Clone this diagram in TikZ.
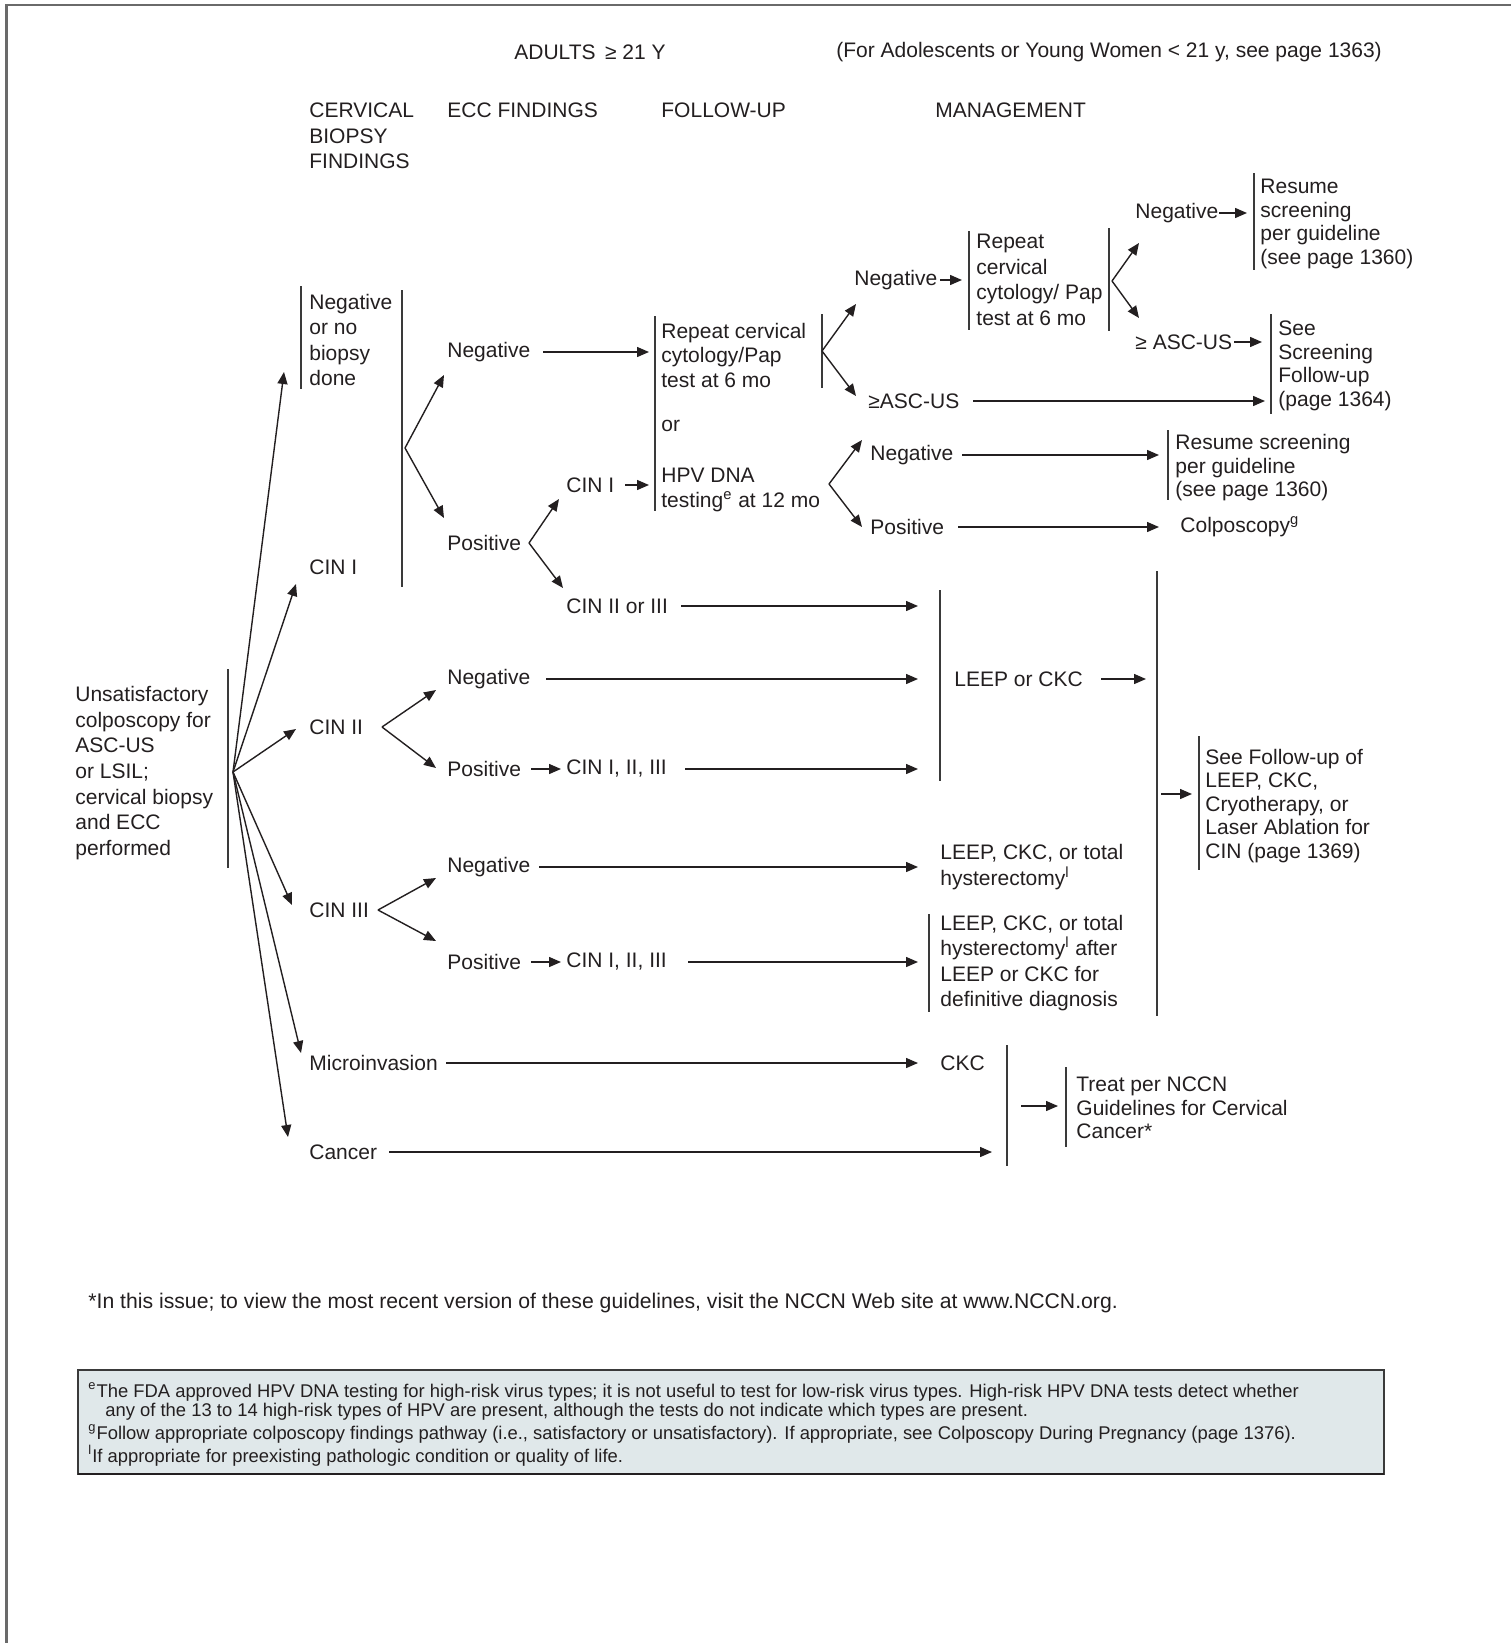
\documentclass[tikz,border=0pt]{standalone}
\usepackage{fontspec}
\setmainfont{Liberation Sans}
\usetikzlibrary{arrows.meta}

\definecolor{ink}{HTML}{231F20}
\definecolor{rulegray}{HTML}{3A3A3A}
\definecolor{framegray}{HTML}{6A6A6A}
\definecolor{notefill}{HTML}{E0E8EA}

% type sizes: main text with three line spacings, and the footnote panel
\newcommand\fsmain{\fontsize{10.5pt}{12.25pt}\selectfont}
\newcommand\fswide{\fontsize{10.5pt}{12.8pt}\selectfont}
\newcommand\fsnarrow{\fontsize{10.5pt}{11.75pt}\selectfont}
\newcommand\fsnote{\fontsize{9.2pt}{10.7pt}\selectfont}

% horizontal arrow: name, x start, x end, y
\newcommand\harrow[4]{%
  \coordinate (#1-s) at (#2,#4);
  \coordinate (#1-e) at (#3,#4);
  \draw[arr] (#1-s) -- (#1-e);}
% two-way split: name, vertex, upper tip, lower tip
\newcommand\splitpair[7]{%
  \coordinate (#1) at (#2,#3);
  \coordinate (#1-up) at (#4,#5);
  \coordinate (#1-dn) at (#6,#7);
  \draw[arr] (#1) -- (#1-up);
  \draw[arr] (#1) -- (#1-dn);}

\begin{document}
\begin{tikzpicture}[x=0.5pt,y=-0.5pt,
  txt/.style={anchor=west,inner sep=0pt,align=left,font=\fsmain,text=ink},
  arr/.style={draw=ink,line width=0.7pt,-{Triangle[length=6pt,width=5pt]}},
  bar/.style={draw=rulegray,line width=0.6pt},
]
% page
\fill[white] (0,0) rectangle (1511,1643);
\useasboundingbox (0,0) rectangle (1511,1643);
\draw[framegray,line width=1.2pt] (6.5,1643) -- (6.5,5) -- (1511,5);

% headings
\node[txt] (adults) at (514,52) {ADULTS \,≥ 21 Y};
\node[txt] (adol) at (836,52) {(For Adolescents or Young Women < 21 y, see page 1363)};
\node[txt,font=\fswide] (hbiopsy) at (309,136) {CERVICAL\\BIOPSY\\FINDINGS};
\node[txt] (hecc) at (447,110) {ECC FINDINGS};
\node[txt] (hfu) at (661,110) {FOLLOW-UP};
\node[txt] (hmgmt) at (935,110) {MANAGEMENT};

% starting point
\node[txt,font=\fswide] (start) at (75,773) {Unsatisfactory\\colposcopy for\\ASC-US\\or LSIL;\\cervical biopsy\\and ECC\\performed};
\draw[bar] (228,669) -- (228,868);

% cervical biopsy findings
\node[txt,font=\fswide] (bneg) at (309,340) {Negative\\or no\\biopsy\\done};
\node[txt] (bcin1) at (309,567) {CIN I};
\node[txt] (bcin2) at (309,727) {CIN II};
\node[txt] (bcin3) at (309,910) {CIN III};
\node[txt] (bmicro) at (309,1063) {Microinvasion};
\node[txt] (bcancer) at (309,1152) {Cancer};
\draw[bar] (301,286) -- (301,389);
\draw[bar] (402,290) -- (402,587);

\coordinate (fan) at (233,772);
\coordinate (fan-neg) at (284,372);
\coordinate (fan-cin1) at (296,584);
\coordinate (fan-cin2) at (296,729);
\coordinate (fan-cin3) at (292,905);
\coordinate (fan-micro) at (301,1053);
\coordinate (fan-cancer) at (288,1137);
\foreach \t in {neg,cin1,cin2,cin3,micro,cancer}
  \draw[arr] (fan) -- (fan-\t);

% ECC findings
\node[txt] (eneg) at (447,352) {Negative};
\node[txt] (epos) at (447,543) {Positive};
\node[txt] (pcin1) at (566,485) {CIN I};
\node[txt] (pcin23) at (566,606) {CIN II or III};
\node[txt] (c2neg) at (447,679) {Negative};
\node[txt] (c2pos) at (447,769) {Positive};
\node[txt] (c2cin) at (566,769) {CIN I, II, III};
\node[txt] (c3neg) at (447,867) {Negative};
\node[txt] (c3pos) at (447,962) {Positive};
\node[txt] (c3cin) at (566,962) {CIN I, II, III};

\splitpair{eccsplit}{405}{448}{444}{375}{444}{518}
\splitpair{possplit}{529}{543}{559}{499}{563}{588}
\splitpair{cintwosplit}{382}{727}{436}{690}{436}{768}
\splitpair{cinthreesplit}{378}{910}{436}{878}{436}{941}

% follow-up
\node[txt] (fucyto) at (661,355) {Repeat cervical\\cytology/Pap\\test at 6 mo};
\node[txt] (fuor) at (661,426) {or};
\node[txt] (fuhpv) at (661,490) {HPV DNA\\testing\textsuperscript{e} at 12 mo};
\draw[bar] (655,316) -- (655,511);

\harrow{eneg-fu}{543}{649}{352}
\harrow{pcin1-fu}{625}{649}{485}

% cytology branch
\draw[bar] (822,314) -- (822,388);
\splitpair{cytosplit}{822}{351}{856}{304}{856}{396}
\node[txt] (cneg) at (854,280) {Negative};
\node[txt] (casc) at (868,401) {≥ASC-US};
\harrow{cneg-rep}{940}{962}{280}
\node[txt,font=\fswide] (crep) at (976,280) {Repeat\\cervical\\cytology/ Pap\\test at 6 mo};
\draw[bar] (969,231) -- (969,330);
\draw[bar] (1109,228) -- (1109,331);
\splitpair{repsplit}{1112}{281}{1139}{243}{1139}{318}
\node[txt] (rneg) at (1135,213) {Negative};
\node[txt] (rasc) at (1135,342) {≥ ASC-US};
\harrow{rneg-res}{1219}{1247}{213}
\harrow{rasc-see}{1234}{1262}{342}
\node[txt,font=\fsnarrow] (rresume) at (1260,224) {Resume\\screening\\per guideline\\(see page 1360)};
\draw[bar] (1254,173) -- (1254,270);
\node[txt,font=\fsnarrow] (rsee) at (1278,366) {See\\Screening\\Follow-up\\(page 1364)};
\draw[bar] (1271,314) -- (1271,414);
\harrow{casc-see}{973}{1265}{401}

% HPV branch
\splitpair{hpvsplit}{829}{484}{862}{440}{862}{527}
\node[txt] (hneg) at (870,455) {Negative};
\node[txt] (hpos) at (870,527) {Positive};
\harrow{hneg-res}{962}{1159}{455}
\harrow{hpos-col}{958}{1159}{527}
\node[txt,font=\fsnarrow] (hresume) at (1175,468) {Resume screening\\per guideline\\(see page 1360)};
\draw[bar] (1168,430) -- (1168,500);
\node[txt] (hcolpo) at (1180,527) {Colposcopy\textsuperscript{g}};

% management
\draw[bar] (940,590) -- (940,781);
\node[txt] (mleep) at (954,679) {LEEP or CKC};
\harrow{pcin23-mg}{681}{918}{606}
\harrow{c2neg-mg}{546}{918}{679}
\harrow{c2pos-cin}{531}{561}{769}
\harrow{c2cin-mg}{685}{918}{769}
\harrow{mleep-out}{1101}{1146}{679}

\harrow{c3neg-mg}{539}{918}{867}
\node[txt,font=\fswide] (mhyst) at (940,867) {LEEP, CKC, or total\\hysterectomy\textsuperscript{l}};
\harrow{c3pos-cin}{531}{561}{962}
\harrow{c3cin-mg}{688}{918}{962}
\node[txt,font=\fswide] (mhyst2) at (940,963) {LEEP, CKC, or total\\hysterectomy\textsuperscript{l} after\\LEEP or CKC for\\definitive diagnosis};
\draw[bar] (929,914) -- (929,1012);

\draw[bar] (1157,571) -- (1157,1016);
\harrow{mg-follow}{1161}{1192}{794}
\node[txt,font=\fsnarrow] (mfollow) at (1205,806) {See Follow-up of\\LEEP, CKC,\\Cryotherapy, or\\Laser Ablation for\\CIN (page 1369)};
\draw[bar] (1199,736) -- (1199,870);

\harrow{micro-ckc}{446}{918}{1063}
\node[txt] (mckc) at (940,1063) {CKC};
\harrow{cancer-mg}{389}{992}{1152}
\draw[bar] (1007,1045) -- (1007,1166);
\harrow{mg-treat}{1021}{1058}{1106}
\node[txt,font=\fsnarrow] (mtreat) at (1076,1108) {Treat per NCCN\\Guidelines for Cervical\\Cancer*};
\draw[bar] (1066,1067) -- (1066,1147);

% notes
\node[txt,font=\fontsize{10.6pt}{12pt}\selectfont] (star) at (88,1303) {*In this issue; to view the most recent version of these guidelines, visit the NCCN Web site at www.NCCN.org.};

\draw[draw=rulegray,fill=notefill,line width=0.7pt] (78,1370) rectangle (1384,1474);
\draw[draw=ink,line width=0.9pt] (78,1474) -- (1384,1474);
\node[txt,font=\fsnote] (note-e) at (88,1392) {\textsuperscript{e}The FDA approved HPV DNA testing for high-risk virus types; it is not useful to test for low-risk virus types. High-risk HPV DNA tests detect whether};
\node[txt,font=\fsnote] (note-e2) at (105,1412) {any of the 13 to 14 high-risk types of HPV are present, although the tests do not indicate which types are present.};
\node[txt,font=\fsnote] (note-g) at (88,1434) {\textsuperscript{g}Follow appropriate colposcopy findings pathway (i.e., satisfactory or unsatisfactory). If appropriate, see Colposcopy During Pregnancy (page 1376).};
\node[txt,font=\fsnote] (note-l) at (88,1456) {\textsuperscript{l}If appropriate for preexisting pathologic condition or quality of life.};
\end{tikzpicture}
\end{document}
